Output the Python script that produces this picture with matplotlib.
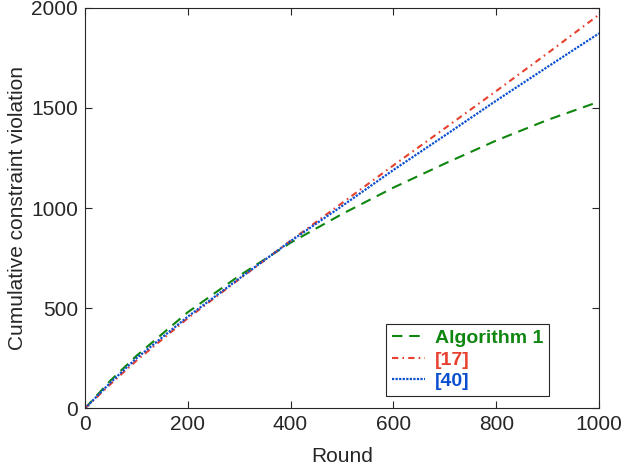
import numpy as np
import matplotlib.pyplot as plt

plt.rcParams['font.family'] = ['Liberation Sans', 'DejaVu Sans']

rounds = [0, 50, 100, 200, 300, 400, 500, 600, 700, 800, 900, 1000]
alg1 = [0, 140, 262, 480, 662, 827, 970, 1102, 1222, 1337, 1440, 1531]
ref17 = [0, 122, 238, 450, 645, 837, 1025, 1213, 1398, 1584, 1773, 1965]
ref40 = [0, 130, 250, 458, 648, 835, 1010, 1190, 1362, 1536, 1705, 1872]

fig = plt.figure(figsize=(6.24, 4.71), dpi=100)
ax = fig.add_axes([0.136, 0.1327, 0.824, 0.851])

ax.plot(rounds, alg1, color='#0f860f', linestyle=(0, (5, 3.3)), linewidth=1.5, label='Algorithm 1')
ax.plot(rounds, ref17, color='#e8402f', linestyle=(0, (3, 2, 0.8, 2)), linewidth=1.5, label='[17]')
ax.plot(rounds, ref40, color='#0a4fd0', linestyle=(0, (1, 0.6)), linewidth=1.6, label='[40]')

ax.set_xlim(0, 1000)
ax.set_ylim(0, 2000)
ax.set_xticks([0, 200, 400, 600, 800, 1000])
ax.set_yticks([0, 500, 1000, 1500, 2000])
ax.tick_params(direction='in', top=True, right=True, labelsize=15, colors='#262626',
               length=5, pad=5)
for s in ax.spines.values():
    s.set_color('#262626')
    s.set_linewidth(0.8)
ax.set_xlabel('Round', fontsize=15, color='#262626', labelpad=9)
ax.set_ylabel('Cumulative constraint violation', fontsize=15, color='#262626', labelpad=3)

leg = ax.legend(loc='lower right', bbox_to_anchor=(0.903, 0.031), borderaxespad=0,
                fancybox=False, edgecolor='#262626', framealpha=1, handlelength=1.7,
                handletextpad=0.5, prop={'weight': 'bold', 'size': 14},
                borderpad=0.3, labelspacing=0.2)
leg.get_frame().set_linewidth(0.8)
for txt, line in zip(leg.get_texts(), leg.get_lines()):
    txt.set_color(line.get_color())

fig.savefig('out.png', dpi=100)
